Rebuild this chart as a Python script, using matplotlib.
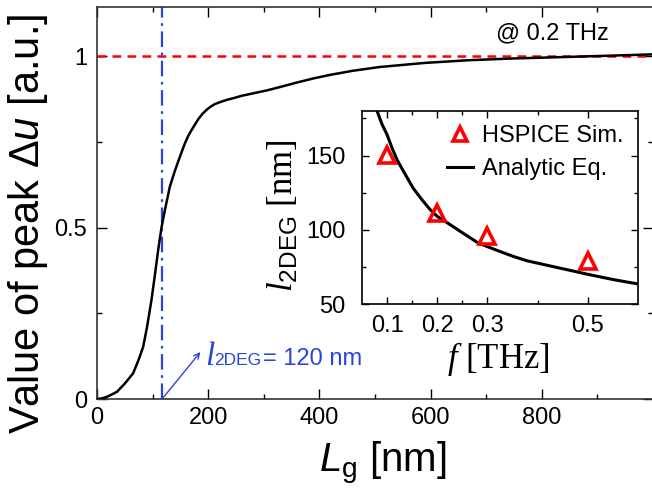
import matplotlib
matplotlib.use("Agg")
import matplotlib.pyplot as plt
from matplotlib.ticker import FixedLocator, FixedFormatter

plt.rcParams['font.family'] = ['Liberation Sans', 'DejaVu Sans']
plt.rcParams['mathtext.fontset'] = 'custom'
plt.rcParams['mathtext.rm'] = 'Liberation Sans'
plt.rcParams['mathtext.sf'] = 'Liberation Sans'
plt.rcParams['mathtext.it'] = 'Liberation Sans:italic'
plt.rcParams['mathtext.cal'] = 'Liberation Serif:italic'

# main curve: peak value vs gate length
lg = [0, 10, 20, 25, 36, 50, 65, 75, 83, 90, 98, 104, 110, 116, 122, 131, 140,
      149, 158, 164, 170, 176, 183, 190, 197, 204, 212, 222, 233, 245, 260, 280,
      306, 330, 360, 390, 419, 460, 508, 590, 670, 750, 838, 900, 982, 1000]
peak = [0, 0.002, 0.008, 0.012, 0.021, 0.045, 0.075, 0.115, 0.152, 0.21, 0.289,
        0.36, 0.434, 0.50, 0.55, 0.619, 0.665, 0.706, 0.745, 0.767, 0.784, 0.80,
        0.818, 0.832, 0.843, 0.852, 0.86, 0.866, 0.872, 0.877, 0.884, 0.891,
        0.90, 0.91, 0.923, 0.935, 0.945, 0.957, 0.968, 0.98, 0.988, 0.993,
        0.997, 1.0, 1.004, 1.005]
l2deg_mark = 117

# inset: HSPICE points and analytic curve
f_sim = [0.1, 0.2, 0.3, 0.5]
l_sim = [150.5, 111.5, 96, 79]
f_eq = [0.08, 0.09, 0.1, 0.11, 0.12, 0.135, 0.152, 0.17, 0.186, 0.2, 0.22, 0.25,
        0.282, 0.32, 0.352, 0.38, 0.42, 0.46, 0.5, 0.55, 0.6]
l_eq = [180, 171, 164, 155, 147, 138, 128, 120, 113.5, 109, 104.7, 98, 91, 86,
        82, 79, 76, 73, 70, 66.5, 63.5]

blue = '#2a45d6'

fig = plt.figure(figsize=(6.52, 4.94), dpi=100)
ax = fig.add_axes([97/652, 1-399/494, 556/652, 392/494])

ax.plot(lg, peak, color='black', lw=1.8, zorder=3)
ax.axhline(1, color='red', lw=1.8, ls=(0, (3.5, 2.5)), zorder=2)
ax.axvline(l2deg_mark, color=blue, lw=1.6, ls=(0, (7, 2.5, 1.2, 2.5)), zorder=2)

ax.set_xlim(0, 1000)
ax.set_ylim(0, 1.143)
ax.xaxis.set_major_locator(FixedLocator([0, 200, 400, 600, 800]))
ax.xaxis.set_minor_locator(FixedLocator([100, 300, 500, 700, 900]))
ax.yaxis.set_major_locator(FixedLocator([0, 0.5, 1]))
ax.yaxis.set_major_formatter(FixedFormatter(['0', '0.5', '1']))
ax.yaxis.set_minor_locator(FixedLocator([0.25, 0.75]))
ax.tick_params(which='both', direction='in', top=True, right=True, labelsize=17)
ax.tick_params(which='major', length=7, width=1)
ax.tick_params(which='minor', length=3.5, width=1)
ax.tick_params(axis='x', pad=6)
ax.tick_params(axis='y', pad=7)
for s in ax.spines.values():
    s.set_linewidth(1.2)
    s.set_color('#333333')

fig.text(496/652, 1-33/494, '@ 0.2 THz', fontsize=17, va='center', ha='left')

# annotation for l_2DEG
ax.annotate('', xy=(186, 0.137), xytext=(l2deg_mark, 0),
            arrowprops=dict(arrowstyle='->', color=blue, lw=1.0, shrinkA=0, shrinkB=0))
ax.annotate('l', xy=(194, 0.099), fontsize=24, family='Liberation Serif',
            style='italic', color=blue, va='baseline', ha='left')
ax.annotate('2DEG', xy=(194, 0.099), xytext=(6.5, 0), textcoords='offset points',
            fontsize=12.5, color=blue, va='baseline', ha='left')
ax.annotate('= 120 nm', xy=(194, 0.099), xytext=(42, 0), textcoords='offset points',
            fontsize=17, color=blue, va='baseline', ha='left')

fig.text(28/652, 1-224/494, 'Value of peak Δ$\\mathit{u}$ [a.u.]', fontsize=30,
         rotation=90, ha='center', va='center')
fig.text(383/652, 1-472/494, '$\\mathit{L}_\\mathsf{g}$ [nm]', fontsize=29,
         ha='center', va='baseline')

# inset
ax2 = fig.add_axes([362/652, 1-304/494, 276/652, 193/494])
ax2.plot(f_sim, l_sim, '^', mfc='none', mec='red', ms=11, mew=2.6,
         label='HSPICE Sim.', zorder=4)
ax2.plot(f_eq, l_eq, color='black', lw=2.2, label='Analytic Eq.', zorder=3)
ax2.set_xlim(0.05, 0.6)
ax2.set_ylim(50, 180)
ax2.xaxis.set_major_locator(FixedLocator([0.1, 0.2, 0.3, 0.5]))
ax2.xaxis.set_major_formatter(FixedFormatter(['0.1', '0.2', '0.3', '0.5']))
ax2.xaxis.set_minor_locator(FixedLocator([0.15, 0.25, 0.4]))
ax2.yaxis.set_major_locator(FixedLocator([50, 100, 150]))
ax2.yaxis.set_major_formatter(FixedFormatter(['50', '100', '150']))
ax2.yaxis.set_minor_locator(FixedLocator([75, 125, 175]))
ax2.tick_params(which='both', direction='in', top=True, right=True, labelsize=17)
ax2.tick_params(which='major', length=5, width=1)
ax2.tick_params(which='minor', length=3, width=1)
ax2.tick_params(axis='x', pad=8)
ax2.tick_params(axis='y', pad=12)
for s in ax2.spines.values():
    s.set_linewidth(1.2)

ax2.legend(loc='upper right', frameon=False, fontsize=17, handlelength=1.1,
           handletextpad=0.4, labelspacing=0.45, borderaxespad=0.2,
           markerscale=0.95)

fig.text(498/652, 1-368/494, '$\\mathcal{f}$ [THz]', fontsize=25,
         family='Liberation Serif', ha='center', va='baseline')
fig.text(283/652, 1-216/494, '$\\mathcal{l}_\\mathsf{2DEG}$ [nm]', fontsize=25,
         family='Liberation Serif', rotation=90, ha='center', va='center')

fig.savefig('out.png', dpi=100)
